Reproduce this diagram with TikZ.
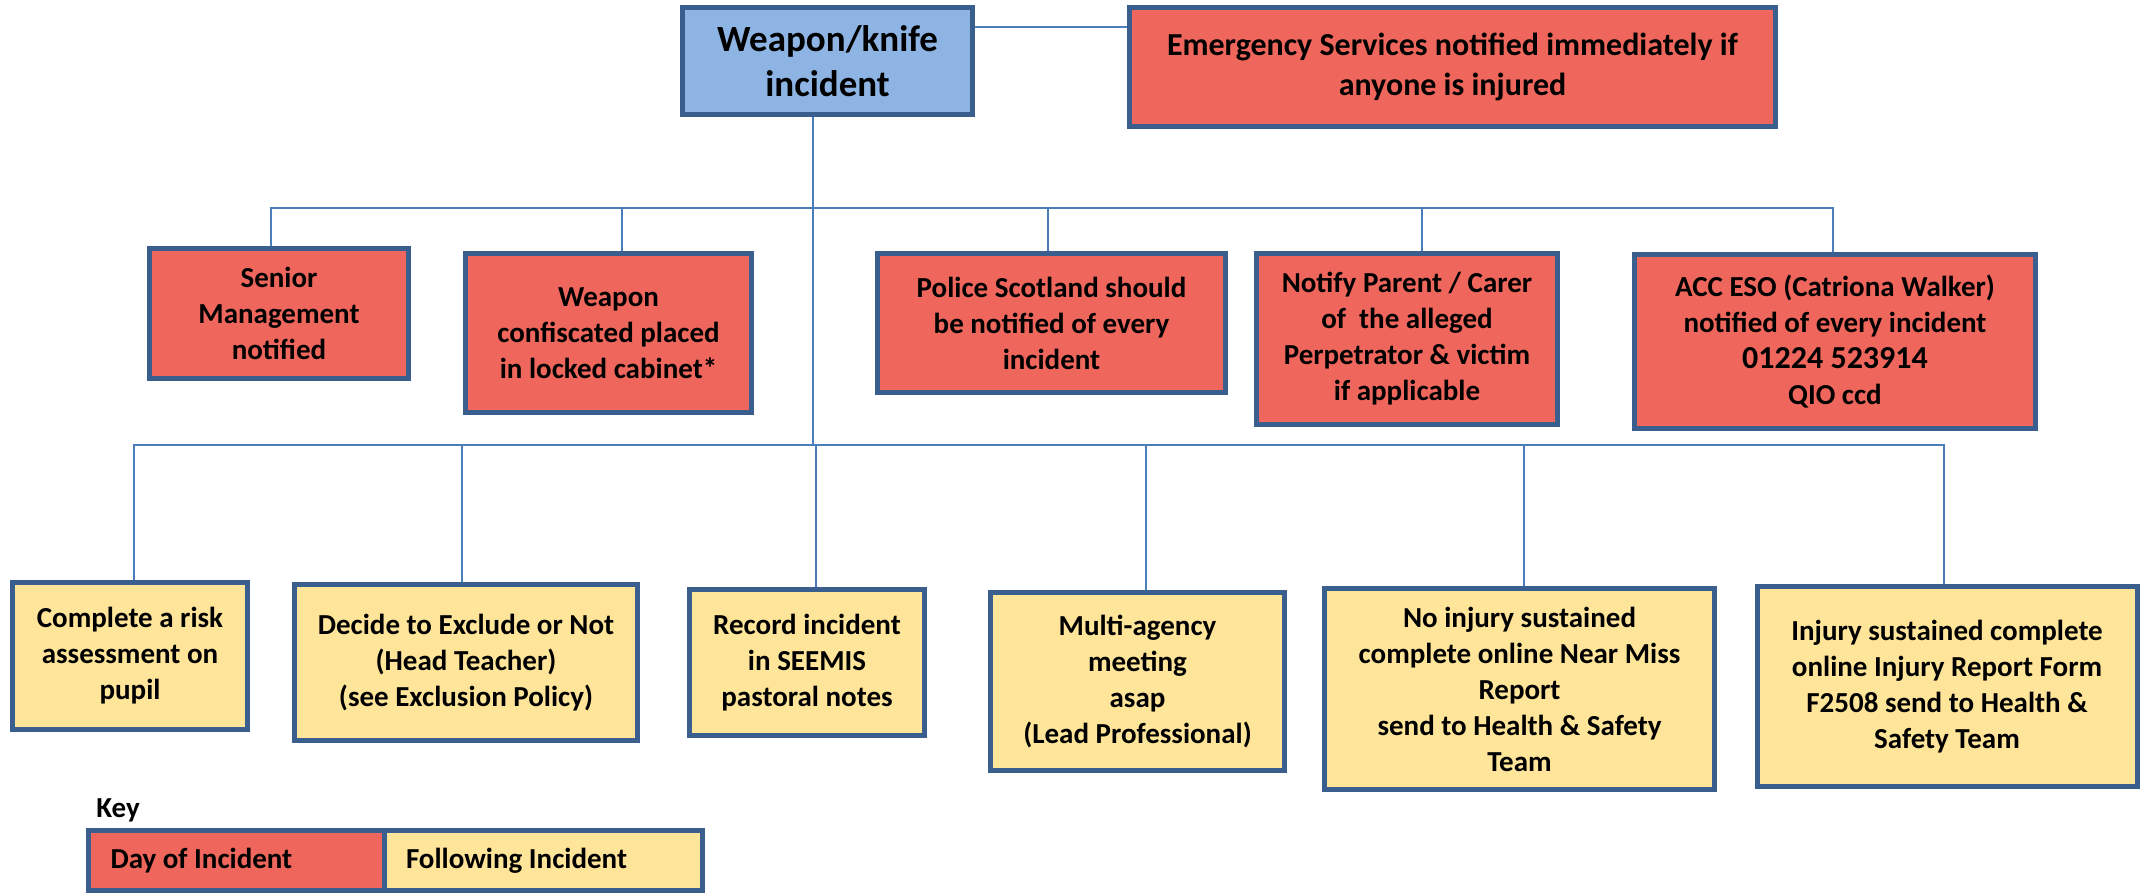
\documentclass[tikz,border=0pt]{standalone}
\usepackage{fontspec}
\setmainfont{Carlito}
\usepackage{tikz}
\usetikzlibrary{positioning, calc}

\definecolor{dayred}{HTML}{EF665C}
\definecolor{lateryellow}{HTML}{FEE599}
\definecolor{startblue}{HTML}{8EB4E3}
\definecolor{edgeblue}{HTML}{3A5F8E}
\definecolor{linkblue}{HTML}{4A7EBB}

\begin{document}
\begin{tikzpicture}[x=0.5pt, y=-0.5pt,
  box/.style={draw=edgeblue, line width=2.5pt, align=center, inner sep=2pt,
    font=\fontsize{14.5}{18}\selectfont\bfseries},
  dayof/.style={box, fill=dayred},
  following/.style={box, fill=lateryellow},
  startbox/.style={box, fill=startblue, font=\fontsize{18.5}{22.5}\selectfont\bfseries},
  link/.style={draw=linkblue, line width=1pt}]

\useasboundingbox (0,0) rectangle (2142,894);

% Incident
\node[startbox, minimum width=145pt, minimum height=53.5pt] (incident) at (827.5,61) {Weapon/knife\\incident};
\node[dayof, minimum width=323pt, minimum height=59.5pt, font=\fontsize{16}{20}\selectfont\bfseries] (emergency) at (1452.5,67) {Emergency Services notified immediately if\\anyone is injured};
\draw[link] ([yshift=17pt]incident.east) -- ([yshift=17pt]incident.east -| emergency.west);

% Day of incident
\node[dayof, minimum width=129.5pt, minimum height=65pt] (senior) at (279,313.5) {Senior\\Management\\notified};
\node[dayof, minimum width=143pt, minimum height=79.5pt] (confiscate) at (608.5,333) {Weapon\\confiscated placed\\in locked cabinet*};
\node[dayof, minimum width=174pt, minimum height=69.5pt] (police) at (1051.5,323) {Police Scotland should\\be notified of every\\incident};
\node[dayof, minimum width=150.5pt, minimum height=85.5pt] (notify) at (1407,339) {Notify Parent / Carer\\of~ the alleged\\Perpetrator \& victim\\if applicable};
\node[dayof, minimum width=200.5pt, minimum height=87pt] (acc) at (1835,341.5) {ACC ESO (Catriona Walker)\\notified of every incident\\{\fontsize{16}{18}\selectfont 01224 523914}\\QIO ccd};

% Following incident
\node[following, minimum width=117.5pt, minimum height=73.5pt] (risk) at (130,656) {Complete a risk\\assessment on\\pupil};
\node[following, minimum width=171.5pt, minimum height=78pt] (exclude) at (466,662.5) {Decide to Exclude or Not\\(Head Teacher)\\(see Exclusion Policy)};
\node[following, minimum width=117.5pt, minimum height=73pt] (record) at (807,662.5) {Record incident\\in SEEMIS\\pastoral notes};
\node[following, minimum width=147pt, minimum height=89pt] (multi) at (1137.5,681.5) {Multi-agency\\meeting\\asap\\(Lead Professional)};
\node[following, minimum width=195pt, minimum height=100.5pt] (nearmiss) at (1519.5,689) {No injury sustained\\complete online Near Miss\\Report\\send to Health \& Safety\\Team};
\node[following, minimum width=190pt, minimum height=100pt] (injury) at (1947,686.5) {Injury sustained complete\\online Injury Report Form\\F2508 send to Health \&\\Safety Team};

% Trunk and buses
\coordinate (upbus) at (813,208);
\coordinate (lowbus) at (813,445);
\draw[link] (incident.south -| upbus) -- (lowbus);
\foreach \n/\dx in {senior/-4pt, confiscate/6.75pt, police/-1.75pt, notify/7.5pt, acc/-1pt}
  \draw[link] (upbus) -| ([xshift=\dx]\n.north);
\foreach \n/\dx in {risk/2pt, exclude/-2pt, record/4.5pt, multi/4.25pt, nearmiss/2.25pt, injury/-1.5pt}
  \draw[link] (lowbus) -| ([xshift=\dx]\n.north);

% Key
\node[font=\fontsize{14.5}{18}\selectfont\bfseries, anchor=base west, inner sep=0pt] (keylabel) at (96,817) {Key};
\node[dayof, align=flush left, text width=125.75pt, inner xsep=11pt, minimum height=30pt, anchor=west] (daykey) at (86,860.5) {Day of Incident};
\node[following, align=flush left, text width=137.25pt, inner xsep=11pt, minimum height=30pt, anchor=west] (followkey) at ([xshift=-2.5pt]daykey.east) {Following Incident};
\end{tikzpicture}
\end{document}
